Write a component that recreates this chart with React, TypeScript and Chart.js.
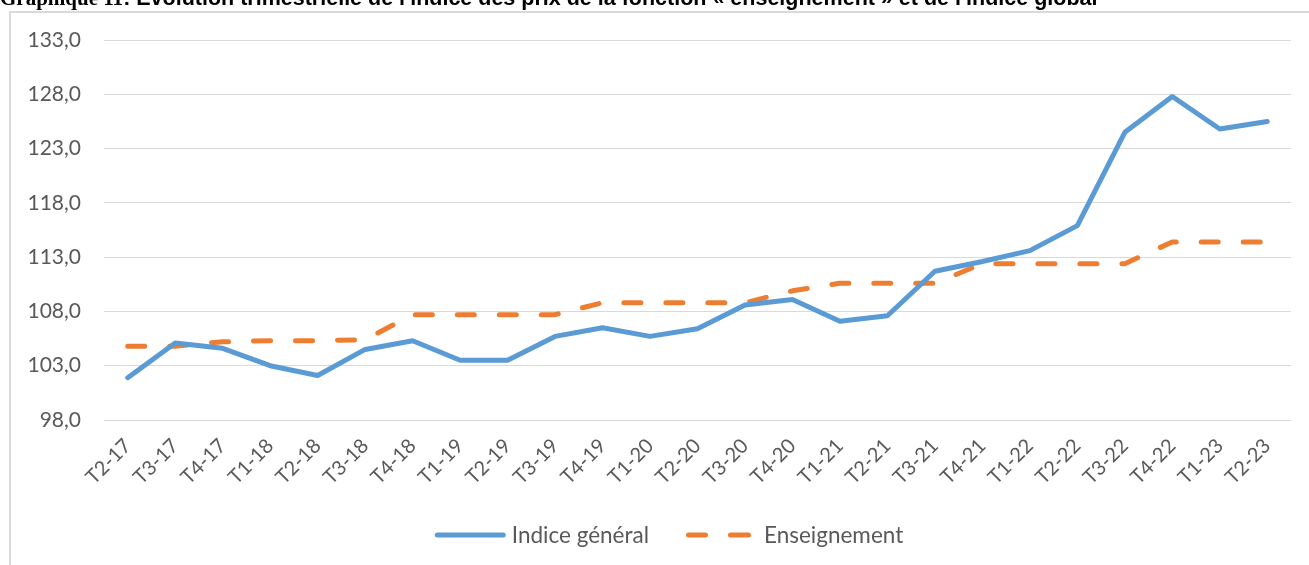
import { useEffect, useRef } from 'react';
import { Chart, registerables } from 'chart.js';

Chart.register(...registerables);

const quarters = [
  'T2-17', 'T3-17', 'T4-17',
  'T1-18', 'T2-18', 'T3-18', 'T4-18',
  'T1-19', 'T2-19', 'T3-19', 'T4-19',
  'T1-20', 'T2-20', 'T3-20', 'T4-20',
  'T1-21', 'T2-21', 'T3-21', 'T4-21',
  'T1-22', 'T2-22', 'T3-22', 'T4-22',
  'T1-23', 'T2-23',
];

const indiceGeneral = [
  101.9, 105.1, 104.6,
  103.0, 102.1, 104.5, 105.3,
  103.5, 103.5, 105.7, 106.5,
  105.7, 106.4, 108.6, 109.1,
  107.1, 107.6, 111.7, 112.6,
  113.6, 115.9, 124.5, 127.8,
  124.8, 125.5,
];

const enseignement = [
  104.8, 104.8, 105.2,
  105.3, 105.3, 105.4, 107.7,
  107.7, 107.7, 107.7, 108.8,
  108.8, 108.8, 108.8, 109.9,
  110.6, 110.6, 110.6, 112.4,
  112.4, 112.4, 112.4, 114.4,
  114.4, 114.4,
];

const seriesNames = ['Indice général', 'Enseignement'];
const yTickValues = [98, 103, 108, 113, 118, 123, 128, 133];

const titleBold = 'Graphique 11';
const titleRest = ": Evolution trimestrielle de l'indice des prix de la fonction « enseignement » et de l'indice global";

const BLUE = '#5B9BD5';
const ORANGE = '#ED7D31';
const TEXT = '#595959';
const GRID = '#D9D9D9';
const FONT = 'Lato, "Open Sans", sans-serif';

const legendPlugin = {
  id: 'excelLegend',
  afterDraw(chart: any) {
    const ctx = chart.ctx as CanvasRenderingContext2D;
    const ds = chart.data.datasets;
    ctx.save();
    ctx.font = `22.5px ${FONT}`;
    ctx.textBaseline = 'middle';
    ctx.fillStyle = TEXT;
    const y = 535;
    const w1 = ctx.measureText(ds[0].label).width;
    const w2 = ctx.measureText(ds[1].label).width;
    const sample1 = 71, sample2 = 65;
    const total = sample1 + 6 + w1 + 37 + sample2 + 13 + w2;
    let x = 669 - total / 2;
    ctx.lineCap = 'round';
    ctx.lineWidth = 5;
    ctx.strokeStyle = ds[0].borderColor;
    ctx.beginPath();
    ctx.moveTo(x + 2.5, y);
    ctx.lineTo(x + sample1 - 2.5, y);
    ctx.stroke();
    x += sample1 + 6;
    ctx.fillText(ds[0].label, x, y + 1);
    x += w1 + 37;
    ctx.strokeStyle = ds[1].borderColor;
    ctx.beginPath();
    ctx.moveTo(x + 2.5, y);
    ctx.lineTo(x + 22 - 2.5, y);
    ctx.moveTo(x + sample2 - 23 + 2.5, y);
    ctx.lineTo(x + sample2 - 2.5, y);
    ctx.stroke();
    x += sample2 + 13;
    ctx.fillText(ds[1].label, x, y + 1);
    ctx.restore();
  },
};

export default function App() {
  const ref = useRef<HTMLCanvasElement>(null);

  useEffect(() => {
    const chart = new Chart(ref.current as HTMLCanvasElement, {
      type: 'line',
      data: {
        labels: quarters,
        datasets: [
          {
            label: seriesNames[0],
            data: indiceGeneral,
            borderColor: BLUE,
            backgroundColor: BLUE,
            borderWidth: 5,
            pointRadius: 0,
            pointHoverRadius: 0,
            tension: 0,
            borderCapStyle: 'round',
            borderJoinStyle: 'round',
          },
          {
            label: seriesNames[1],
            data: enseignement,
            borderColor: ORANGE,
            backgroundColor: ORANGE,
            borderWidth: 5,
            borderDash: [17, 25],
            pointRadius: 0,
            pointHoverRadius: 0,
            tension: 0,
            borderCapStyle: 'round',
            borderJoinStyle: 'round',
          },
        ],
      },
      options: {
        responsive: false,
        animation: false,
        devicePixelRatio: 1,
        layout: { padding: { left: 0, right: 18, top: 40, bottom: 0 } },
        plugins: {
          legend: { display: false },
          tooltip: { enabled: false },
          title: { display: false },
        },
        scales: {
          x: {
            type: 'category',
            offset: true,
            grid: { display: false, drawTicks: false },
            border: { display: false },
            ticks: {
              autoSkip: false,
              maxRotation: 45,
              minRotation: 45,
              padding: 14,
              color: TEXT,
              font: { family: FONT, size: 20 },
            },
            afterFit(scale: any) {
              scale.height = 145;
            },
          },
          y: {
            type: 'linear',
            min: 98,
            max: 133,
            grid: { color: GRID, lineWidth: 1, drawTicks: false },
            border: { display: false },
            ticks: {
              padding: 23,
              color: TEXT,
              font: { family: FONT, size: 21 },
              callback: (v: any) => Number(v).toFixed(1).replace('.', ','),
            },
            afterBuildTicks(scale: any) {
              scale.ticks = yTickValues.map((v) => ({ value: v }));
            },
            afterFit(scale: any) {
              scale.width = 104;
            },
          },
        },
      },
      plugins: [legendPlugin],
    });
    return () => chart.destroy();
  }, []);

  return (
    <div
      style={{
        position: 'fixed',
        left: 0,
        top: 0,
        width: 1309,
        height: 565,
        overflow: 'hidden',
        background: '#ffffff',
      }}
    >
      <canvas
        ref={ref}
        width={1309}
        height={565}
        style={{ position: 'absolute', left: 0, top: 0, width: 1309, height: 565 }}
      />
      <div
        style={{
          position: 'absolute',
          left: 9,
          top: 11,
          width: 1400,
          height: 700,
          borderLeft: `2px solid ${GRID}`,
          borderTop: `2px solid ${GRID}`,
          pointerEvents: 'none',
        }}
      />
      <div
        style={{
          position: 'absolute',
          left: 0,
          top: -12,
          whiteSpace: 'nowrap',
          lineHeight: '21px',
          fontWeight: 'bold',
          color: '#000',
        }}
      >
        <span style={{ fontFamily: '"Liberation Serif", serif', fontSize: 21 }}>{titleBold}</span>
        <span style={{ fontFamily: '"Liberation Sans", Arial, sans-serif', fontSize: 21.5 }}>{titleRest}</span>
      </div>
    </div>
  );
}
